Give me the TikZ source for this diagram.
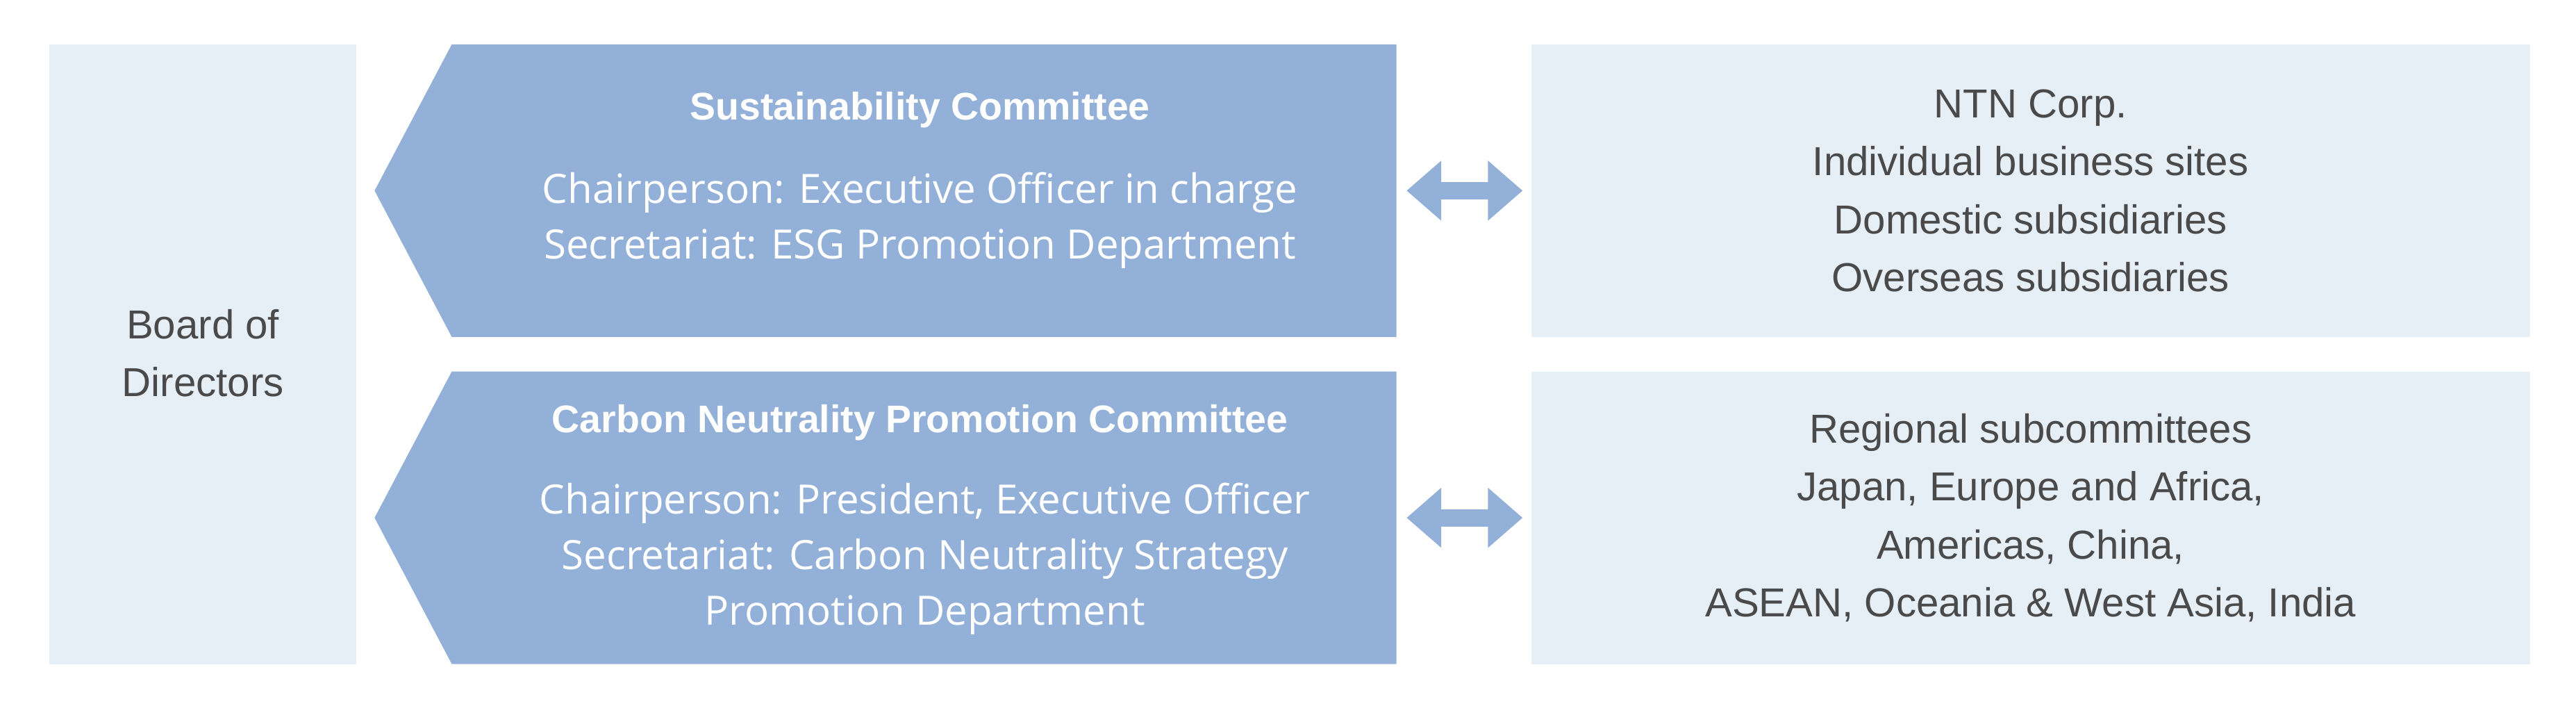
\documentclass[tikz,border=0pt]{standalone}
\usepackage{fontspec}
\setmainfont{Liberation Sans}
\newfontfamily\bodyf{Open Sans}
\usetikzlibrary{arrows.meta}
\definecolor{lb}{HTML}{E6EEF6}
\definecolor{mb}{HTML}{93B0D8}
\definecolor{tg}{HTML}{4A4A4A}
\begin{document}
\begin{tikzpicture}[x=0.03cm,y=-0.03cm,
  lbox/.style={fill=lb,draw=none},
  pent/.style={fill=mb,draw=none},
  dtext/.style={text=tg,align=center,font=\fontsize{21}{30}\selectfont},
  wtitle/.style={text=white,align=center,font=\bfseries\fontsize{20}{28}\selectfont},
  wbody/.style={text=white,align=center,font=\bodyf\fontsize{21}{29}\selectfont},
  dbl/.style={{Triangle[width=30pt,length=18pt]}-{Triangle[width=30pt,length=18pt]},line width=9pt,mb,shorten <=1pt,shorten >=1pt}]
\useasboundingbox (0,0) rectangle (1568,429.5);
\fill[lbox] (30,27) rectangle (217,404);
\node[dtext] (bd) at (123.5,215) {Board of\\Directors};
\fill[pent] (228,116) -- (275,27) -- (850,27) -- (850,205) -- (275,205) -- cycle;
\fill[pent] (228,315) -- (275,226) -- (850,226) -- (850,404) -- (275,404) -- cycle;
\node[wtitle] (t1) at (560,67) {Sustainability Committee};
\node[wbody] (b1) at (560,134) {Chairperson: Executive Officer in charge\\Secretariat: ESG Promotion Department};
\node[wtitle] (t2) at (560,257) {Carbon Neutrality Promotion Committee};
\node[wbody] (b2) at (563,340) {Chairperson: President, Executive Officer\\Secretariat: Carbon Neutrality Strategy\\Promotion Department};
\fill[lbox] (932,27) rectangle (1540,205);
\fill[lbox] (932,226) rectangle (1540,404);
\node[dtext] (r1) at (1236,116) {NTN Corp.\\Individual business sites\\Domestic subsidiaries\\Overseas subsidiaries};
\node[dtext] (r2) at (1236,315) {Regional subcommittees\\Japan, Europe and Africa,\\Americas, China,\\ASEAN, Oceania \& West Asia, India};
\coordinate (a1) at (855,116); \coordinate (a2) at (928,116);
\coordinate (c1) at (855,315); \coordinate (c2) at (928,315);
\draw[dbl] (a1) -- (a2);
\draw[dbl] (c1) -- (c2);
\end{tikzpicture}
\end{document}
